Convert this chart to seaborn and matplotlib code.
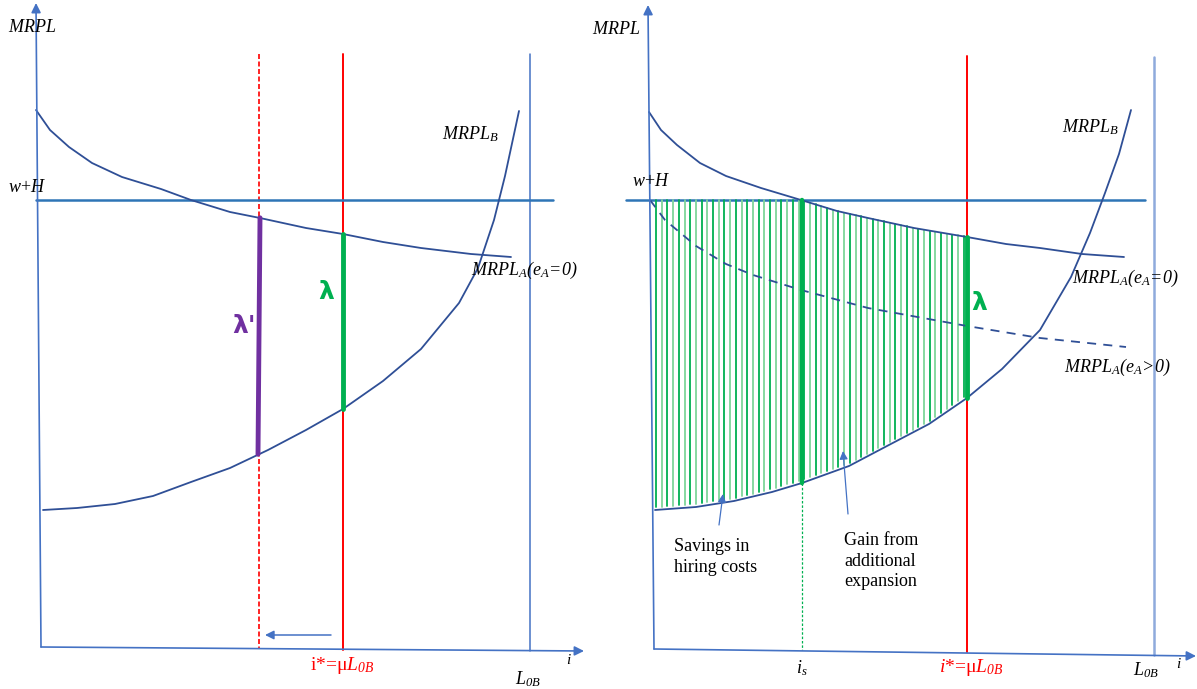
import numpy as np
import matplotlib
matplotlib.use("Agg")
import matplotlib.pyplot as plt
import seaborn as sns

sns.set_style("white")
plt.rcParams['font.family'] = ['Liberation Serif', 'DejaVu Serif']
plt.rcParams['mathtext.fontset'] = 'custom'
plt.rcParams['mathtext.rm'] = 'Liberation Serif:italic'
plt.rcParams['mathtext.it'] = 'Liberation Serif:italic'
plt.rcParams['mathtext.bf'] = 'Liberation Serif:bold'

# diagram drawn in picture coordinates (x right, y down)
# left panel curves
left_a_x = [36, 50, 69, 92, 122, 161, 191, 230, 260, 306, 343, 383, 421, 471, 511]
left_a_y = [110, 130, 147, 163, 177, 189, 200, 212, 218, 228, 234, 242, 248, 254, 257]
left_b_x = [43, 77, 115, 153, 191, 230, 268, 306, 343, 383, 421, 459, 478, 494, 505, 519]
left_b_y = [510, 508, 504, 496, 482, 468, 450, 430, 409, 381, 349, 303, 268, 220, 176, 111]

# right panel curves
right_a_x = [649, 661, 677, 700, 726, 761, 801, 837, 868, 914, 967, 1006, 1040, 1082, 1124]
right_a_y = [112, 130, 145, 163, 176, 188, 200, 211, 218, 228, 237, 244, 248, 254, 257]
right_a2_x = [650, 665, 696, 726, 753, 801, 868, 967, 1040, 1126]
right_a2_y = [200, 220, 246, 264, 275, 290, 308, 326, 338, 347]
right_b_x = [655, 696, 734, 772, 802, 849, 887, 929, 967, 1002, 1040, 1071, 1090, 1105, 1119, 1131]
right_b_y = [510, 507, 501, 492, 483, 466, 446, 424, 398, 369, 330, 277, 233, 193, 154, 110]

wh_y = 200
left_istar, left_ishift, left_l0b = 343, 259, 530
right_istar, right_is, right_l0b = 967, 802, 1154

navy = '#2F4F96'
wline = '#2E75B6'
axis_c = '#4472C4'
green = '#00B050'
red = '#FF0000'

fig = plt.figure(figsize=(11.97, 6.89), dpi=100)
ax = fig.add_axes([0, 0, 1, 1])
ax.set_xlim(0, 1197)
ax.set_ylim(689, 0)
ax.set_axis_off()

# axes with arrow heads
ax_arrow = dict(arrowstyle='-|>', color=axis_c, lw=1.2, mutation_scale=14, shrinkA=0, shrinkB=0)
ax.annotate('', xy=(36, 3), xytext=(41, 647), arrowprops=ax_arrow)
ax.annotate('', xy=(584, 651), xytext=(41, 647), arrowprops=ax_arrow)
ax.annotate('', xy=(648, 5), xytext=(654, 649), arrowprops=ax_arrow)
ax.annotate('', xy=(1196, 656), xytext=(654, 649), arrowprops=ax_arrow)

# verticals
ax.plot([left_l0b, left_l0b], [54, 651], color=axis_c, lw=1.1)
ax.plot([right_l0b, right_l0b], [57, 655], color='#8FAADC', lw=1.8)
ax.plot([left_istar, left_istar], [54, 650], color=red, lw=1.4)
ax.plot([left_ishift, left_ishift], [54, 649], color=red, lw=1.2, ls=(0, (3, 1.5)))
ax.plot([right_istar, right_istar], [56, 652], color=red, lw=1.4)
ax.plot([right_is, right_is], [483, 650], color=green, lw=0.9, ls=(0, (2, 1.5)))

# w+H lines
ax.plot([36, 553], [wh_y, wh_y], color=wline, lw=1.8)
ax.plot([626, 1145], [wh_y, wh_y], color=wline, lw=1.8)

# hatching between top (w+H / MRPL_A) and MRPL_B
hx = np.arange(656, 964, 5.7)
top = np.maximum(np.interp(hx, right_a_x, right_a_y), wh_y)
bot = np.interp(hx, right_b_x, right_b_y)
for k, (xx, t, b) in enumerate(zip(hx, top, bot)):
    ax.plot([xx, xx], [t, b - 3], color=green if k % 2 == 0 else '#7ED69A', lw=1.3)

# curves
sns.lineplot(x=left_a_x, y=left_a_y, ax=ax, color=navy, lw=1.3, sort=False, estimator=None)
sns.lineplot(x=left_b_x, y=left_b_y, ax=ax, color=navy, lw=1.3, sort=False, estimator=None)
sns.lineplot(x=right_a_x, y=right_a_y, ax=ax, color=navy, lw=1.3, sort=False, estimator=None)
sns.lineplot(x=right_a2_x, y=right_a2_y, ax=ax, color=navy, lw=1.3, sort=False,
             estimator=None, linestyle=(0, (5, 4)))
sns.lineplot(x=right_b_x, y=right_b_y, ax=ax, color=navy, lw=1.3, sort=False, estimator=None)

# lambda segments
la_top = np.interp(left_istar, left_a_x, left_a_y)
la_bot = np.interp(left_istar, left_b_x, left_b_y)
ax.plot([left_istar, left_istar], [la_top, la_bot], color=green, lw=3.5)
lp_top = np.interp(left_ishift, left_a_x, left_a_y)
lp_bot = np.interp(left_ishift, left_b_x, left_b_y)
ax.plot([left_ishift + 1, left_ishift - 1], [lp_top, lp_bot], color='#7030A0', lw=3.5)
ra_top = np.interp(right_istar, right_a_x, right_a_y)
ra_bot = np.interp(right_istar, right_b_x, right_b_y)
ax.plot([right_istar, right_istar], [ra_top, ra_bot], color=green, lw=3.5)
rs_bot = np.interp(right_is, right_b_x, right_b_y)
ax.plot([right_is, right_is], [wh_y, rs_bot], color=green, lw=3.2)

# shift arrow
ax.annotate('', xy=(265, 635), xytext=(331, 635),
            arrowprops=dict(arrowstyle='-|>', color=axis_c, lw=1.1, mutation_scale=13, shrinkA=0, shrinkB=0))
# callout arrows
call = dict(arrowstyle='-|>', color=axis_c, lw=0.9, mutation_scale=12, shrinkA=0, shrinkB=0)
ax.annotate('', xy=(723, 494), xytext=(719, 525), arrowprops=call)
ax.annotate('', xy=(843, 451), xytext=(848, 514), arrowprops=call)

fs = 13
tk = dict(color='black', fontsize=fs)
lam = dict(va='center', ha='left', fontsize=18, fontweight='bold', family='DejaVu Sans')
ax.text(8, 28, r'$MRPL$', va='center', ha='left', **tk)
ax.text(8, 188, r'$w$+$H$', va='center', ha='left', **tk)
ax.text(442, 134, r'$MRPL_B$', va='center', ha='left', **tk)
ax.text(471, 270, r'$MRPL_A(e_A\!=\!0)$', va='center', ha='left', **tk)
ax.text(566, 660, r'$i$', va='center', ha='left', fontsize=11, color='black')
ax.text(515, 679, r'$L_{0B}$', va='center', ha='left', **tk)
ax.text(310, 666, r'i*=μ$L_{0B}$', va='center', ha='left', color=red, fontsize=fs + 1)
ax.text(232, 326, "λ'", color='#7030A0', **lam)
ax.text(318, 292, 'λ', color=green, **lam)

ax.text(592, 30, r'$MRPL$', va='center', ha='left', **tk)
ax.text(632, 181, r'$w$+$H$', va='center', ha='left', **tk)
ax.text(1062, 127, r'$MRPL_B$', va='center', ha='left', **tk)
ax.text(1072, 278, r'$MRPL_A(e_A\!=\!0)$', va='center', ha='left', **tk)
ax.text(1064, 367, r'$MRPL_A(e_A\!>\!0)$', va='center', ha='left', **tk)
ax.text(971, 303, 'λ', color=green, **lam)
ax.text(796, 668, r'$i_s$', va='center', ha='left', **tk)
ax.text(939, 668, r'$i$*=μ$L_{0B}$', va='center', ha='left', color=red, fontsize=fs + 1)
ax.text(1133, 670, r'$L_{0B}$', va='center', ha='left', **tk)
ax.text(1176, 664, r'$i$', va='center', ha='left', fontsize=11, color='black')
ax.text(674, 557, 'Savings in\nhiring costs', va='center', ha='left', fontsize=fs,
        linespacing=1.25, color='black')
ax.text(844, 561, 'Gain from\nadditional\nexpansion', va='center', ha='left', fontsize=fs,
        linespacing=1.25, color='black')

fig.savefig('out.png', dpi=100, facecolor='white')
